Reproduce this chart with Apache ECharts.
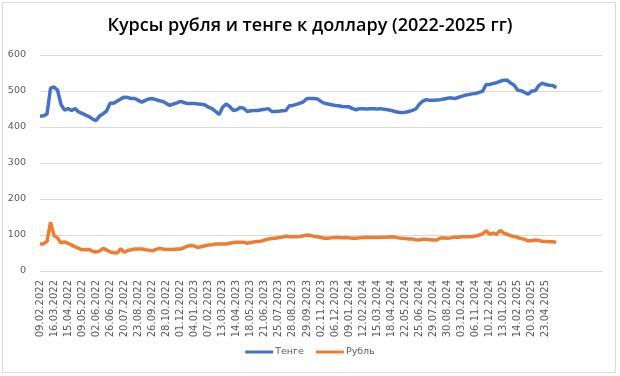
<!DOCTYPE html>
<html>
<head>
<meta charset="utf-8">
<script src="https://cdn.jsdelivr.net/npm/echarts@6/dist/echarts.min.js"></script>
<style>
html,body{margin:0;padding:0;background:#fff;}
#c{width:620px;height:376px;}
</style>
</head>
<body>
<div id="c"></div>
<script>
const tickLabels = ['09.02.2022','16.03.2022','15.04.2022','09.05.2022','02.06.2022','26.06.2022','20.07.2022','23.08.2022','26.09.2022','28.10.2022','01.12.2022','04.01.2023','07.02.2023','13.03.2023','14.04.2023','18.05.2023','21.06.2023','25.07.2023','28.08.2023','29.09.2023','02.11.2023','06.12.2023','09.01.2024','12.02.2024','15.03.2024','18.04.2024','22.05.2024','25.06.2024','29.07.2024','30.08.2024','03.10.2024','06.11.2024','10.12.2024','13.01.2025','14.02.2025','20.03.2025','23.04.2025'];

const tenge = [430,431,436,508,511,502,462,447,451,446,451,442,438,433,429,422,418,431,437,445,
467,466,472,478,483,482,479,479,474,469,474,478,479,476,473,471,465,460,464,467,
471,468,465,465,465,464,463,461,455,451,443,435,455,464,457,446,448,454,452,443,
445,446,446,448,449,451,443,443,444,445,446,459,460,463,466,470,479,479,479,478,
471,466,464,462,460,459,457,456,456,451,448,451,451,450,451,451,450,451,449,448,
446,443,441,440,441,443,446,450,463,472,476,474,474,475,476,478,480,481,479,482,
485,488,490,492,493,496,499,518,518,521,523,527,530,530,522,516,502,501,496,491,
500,501,515,522,518,516,515,509];

const rub = [75,76,82,135,98,92,78,81,77,72,67,63,59,59,60,55,53,56,63,58,
53,51,50,62,52,57,59,61,61,61,59,58,56,60,63,61,60,60,60,61,
61,65,69,71,69,65,68,70,72,73,75,75,75,75,77,79,80,80,80,77,
79,81,82,83,86,89,90,91,93,94,97,95,95,95,96,98,100,99,96,95,
93,91,91,92,93,93,92,93,92,91,91,92,93,94,93,93,93,94,94,94,
95,94,92,91,90,89,89,87,86,88,88,87,86,86,92,92,91,92,94,94,
95,95,95,95,97,100,103,112,102,105,102,113,105,102,98,96,93,90,88,84,
84,86,85,82,82,81,81,80];

const perTick = 4;
const totalCats = 161;
const cats = [];
for (let i = 0; i < totalCats; i++) {
  cats.push(i % perTick === 0 && tickLabels[i / perTick] ? tickLabels[i / perTick] : '');
}

const chart = echarts.init(document.getElementById('c'), null, {renderer:'canvas'});
chart.setOption({
  animation:false,
  backgroundColor:'#fff',
  graphic:[{type:'rect',shape:{x:2.5,y:2.5,width:613,height:370},style:{fill:'none',stroke:'#d9d9d9',lineWidth:1},silent:true}],
  title:{
    text:'Курсы рубля и тенге к доллару (2022-2025 гг)',
    left:'center', top:12,
    textStyle:{fontFamily:'Open Sans',fontSize:18,fontWeight:600,color:'#000'}
  },
  legend:{
    bottom:14, left:'center', icon:'rect',
    itemWidth:28, itemHeight:3, itemGap:12,
    textStyle:{fontFamily:'DejaVu Sans',fontSize:9.5,color:'#595959',padding:[0,0,0,-3]},
    data:['Тенге','Рубль']
  },
  grid:{left:40,right:18,top:55,bottom:105,containLabel:false},
  xAxis:{
    type:'category', data:cats, boundaryGap:false,
    axisLine:{lineStyle:{color:'#d9d9d9'}},
    axisTick:{show:false},
    axisLabel:{interval:perTick-1, rotate:90, margin:9, color:'#595959', fontFamily:'DejaVu Sans', fontSize:10, hideOverlap:false}
  },
  yAxis:{
    type:'value', min:0, max:600, interval:100,
    axisLine:{show:false}, axisTick:{show:false},
    splitLine:{lineStyle:{color:'#d9d9d9'}},
    axisLabel:{margin:14, color:'#595959', fontFamily:'DejaVu Sans', fontSize:9.5}
  },
  series:[
    {name:'Тенге', type:'line', data:tenge, symbol:'none', lineStyle:{width:3.5,color:'#4472C4'}, itemStyle:{color:'#4472C4'}},
    {name:'Рубль', type:'line', data:rub, symbol:'none', lineStyle:{width:3.5,color:'#ED7D31'}, itemStyle:{color:'#ED7D31'}}
  ]
});
</script>
</body>
</html>
